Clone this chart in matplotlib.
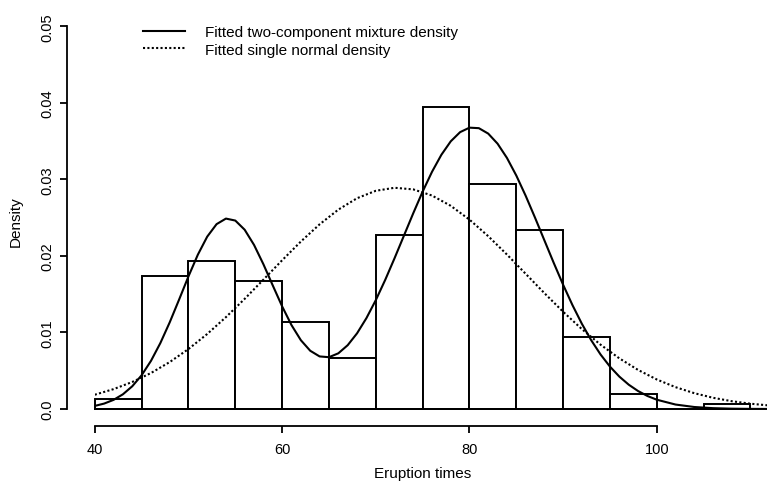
import matplotlib
matplotlib.use("Agg")
import matplotlib.pyplot as plt

plt.rcParams['font.family'] = ['Liberation Sans', 'DejaVu Sans']

# histogram of eruption times (bins of width 5), density scale
bin_left = [40, 45, 50, 55, 60, 65, 70, 75, 80, 85, 90, 95, 100, 105]
bar_density = [0.00134, 0.01739, 0.01940, 0.01672, 0.01137, 0.00669, 0.02274,
               0.03946, 0.02943, 0.02341, 0.00936, 0.00201, 0.0, 0.00070]

# fitted two-component mixture density
mix_x = list(range(40, 101)) + [102, 104, 106, 108, 110, 112]
mix_y = [0.000405, 0.000709, 0.001191, 0.001920, 0.002971, 0.004413, 0.006294,
         0.008619, 0.011328, 0.014296, 0.017328, 0.020159, 0.022517, 0.024151,
         0.024878, 0.024620, 0.023420, 0.021436, 0.018913, 0.016140, 0.013406,
         0.010959, 0.008987, 0.007608, 0.006868, 0.006768, 0.007276, 0.008339,
         0.009893, 0.011878, 0.014226, 0.016860, 0.019698, 0.022641, 0.025584,
         0.028405, 0.030990, 0.033214, 0.034972, 0.036173, 0.036757, 0.036692,
         0.035981, 0.034662, 0.032804, 0.030498, 0.027855, 0.024992, 0.022028,
         0.019075, 0.016225, 0.013558, 0.011130, 0.008976, 0.007111, 0.005534,
         0.004232, 0.003178, 0.002345, 0.001700, 0.001211,
         0.000582, 0.000261, 0.000109, 0.000042, 0.000015, 0.000005]

# fitted single normal density
norm_x = list(range(40, 113, 2))
norm_y = [0.001868, 0.002596, 0.003531, 0.004703, 0.006134, 0.007835, 0.009799,
          0.012001, 0.014391, 0.016900, 0.019433, 0.021882, 0.024127, 0.026049,
          0.027540, 0.028511, 0.028903, 0.028691, 0.027889, 0.026546, 0.024742,
          0.022582, 0.020181, 0.017662, 0.015135, 0.012701, 0.010436, 0.008397,
          0.006616, 0.005104, 0.003856, 0.002853, 0.002067, 0.001466, 0.001018,
          0.000693, 0.000461]

x_ticks = [40, 60, 80, 100]
y_ticks = [0.0, 0.01, 0.02, 0.03, 0.04, 0.05]
y_tick_labels = ['0.0', '0.01', '0.02', '0.03', '0.04', '0.05']

W, H = 767, 489
fig = plt.figure(figsize=(W / 100, H / 100), dpi=100)
ax = fig.add_axes([94.8 / W, (H - 410) / H, (W - 94.8) / W, 382.7 / H])

ax.bar(bin_left, bar_density, width=5, align='edge', facecolor='white',
       edgecolor='black', linewidth=1.4, clip_on=False, zorder=1)
ax.axhline(0, color='black', linewidth=1.4, clip_on=False, zorder=2)

ax.plot(mix_x, mix_y, color='black', linewidth=1.5, zorder=3,
        label='Fitted two-component mixture density')
ax.plot(norm_x, norm_y, color='black', linewidth=1.5, linestyle=(0, (1, 1.1)),
        zorder=3, label='Fitted single normal density')

ax.set_xlim(40, 40 + (W - 94.8) / 9.367)
ax.set_ylim(0, 0.05)

for side in ['top', 'right']:
    ax.spines[side].set_visible(False)
ax.spines['left'].set_position(('outward', 19.8))
ax.spines['left'].set_bounds(0, 0.05)
ax.spines['bottom'].set_position(('outward', 12.2))
ax.spines['bottom'].set_bounds(40, 100)
for side in ['left', 'bottom']:
    ax.spines[side].set_linewidth(1.3)

ax.set_xticks(x_ticks)
ax.set_xticklabels([str(t) for t in x_ticks])
ax.set_yticks(y_ticks)
ax.set_yticklabels(y_tick_labels, rotation=90, va='center')
ax.tick_params(axis='both', direction='out', length=5, width=1.3, labelsize=10.5)
ax.tick_params(axis='x', pad=6.5)
ax.tick_params(axis='y', pad=4)

ax.set_xlabel('Eruption times', fontsize=11)
ax.xaxis.set_label_coords(0.487, -0.150)
ax.set_ylabel('Density', fontsize=11)
ax.yaxis.set_label_coords(-0.107, 0.491)

ax.legend(loc='upper left', bbox_to_anchor=(143.3 / W, 1 - 26 / H),
          bbox_transform=fig.transFigure, frameon=False, fontsize=11,
          handlelength=2.75, handletextpad=1.3, labelspacing=0.25,
          borderpad=0, borderaxespad=0)

fig.savefig('out.png', dpi=100)
